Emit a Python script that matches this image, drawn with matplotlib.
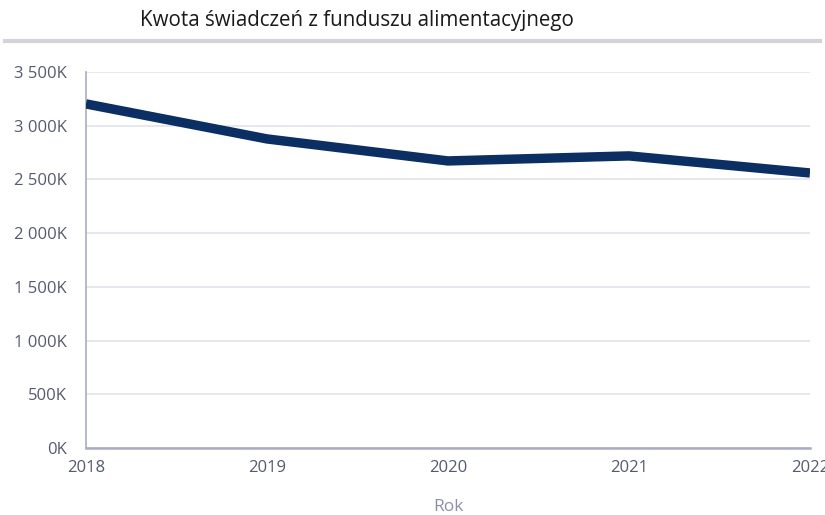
import matplotlib
matplotlib.use('Agg')
import matplotlib.pyplot as plt
from matplotlib.lines import Line2D
from matplotlib.ticker import FuncFormatter

# dane
years = [2018, 2019, 2020, 2021, 2022]
amounts_k = [3203, 2877, 2672, 2719, 2560]
y_ticks = [0, 500, 1000, 1500, 2000, 2500, 3000, 3500]

plt.rcParams['font.family'] = ['Open Sans', 'DejaVu Sans']

fig = plt.figure(figsize=(8.25, 5.15), dpi=100)
ax = fig.add_axes([0.1042, 0.1301, 0.8776, 0.7301])

ax.plot(years, amounts_k, color='#0c2f63', linewidth=6.8, solid_capstyle='butt',
        solid_joinstyle='round', zorder=3)

ax.set_xlim(years[0], years[-1])
ax.set_ylim(0, 3500)
ax.set_xticks(years)
ax.set_yticks(y_ticks)


def fmt(v, pos):
    s = f'{int(v):,}'.replace(',', ' ')
    return s + 'K'


ax.yaxis.set_major_formatter(FuncFormatter(fmt))
ax.grid(axis='y', color='#e3e3ec', linewidth=1.2)
ax.set_axisbelow(True)

for side in ['top', 'right']:
    ax.spines[side].set_visible(False)
ax.spines['left'].set_color('#a9abc6')
ax.spines['bottom'].set_color('#a9abc6')
ax.spines['left'].set_linewidth(1.2)
ax.spines['bottom'].set_linewidth(1.8)

ax.tick_params(axis='both', length=0, labelsize=12, labelcolor='#555a70')
ax.tick_params(axis='y', pad=14)
ax.tick_params(axis='x', pad=9)

ax.set_xlabel('Rok', fontsize=12.5, color='#8a8fab', labelpad=16)

fig.text(0.17, 0.96, 'Kwota świadczeń z funduszu alimentacyjnego', fontsize=14.8,
         color='#1a1a1a', ha='left', va='center')
fig.add_artist(Line2D([0.006, 0.994], [0.921, 0.921], color='#d3d3da', linewidth=3,
                      transform=fig.transFigure))

fig.savefig('out.png', dpi=100)
